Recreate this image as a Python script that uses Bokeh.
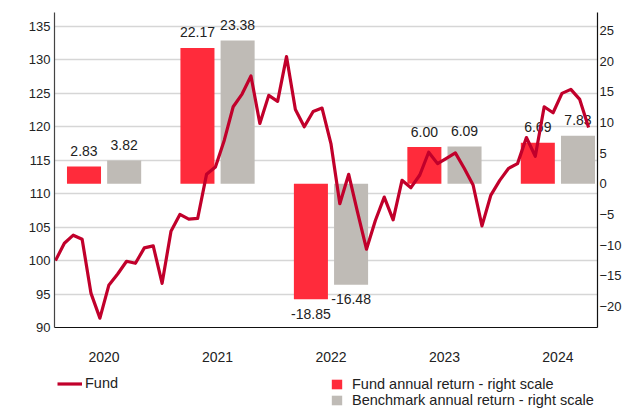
from bokeh.plotting import figure
from bokeh.layouts import column
from bokeh.models import (Range1d, LinearAxis, FixedTicker, Legend, LegendItem,
                          ColumnDataSource, Grid)
from bokeh.embed import file_html
from bokeh.resources import INLINE
from bokeh.core.properties import value

# ---------------- data ----------------
years = ["2020", "2021", "2022", "2023", "2024"]
fund_returns = [2.83, 22.17, -18.85, 6.00, 6.69]
bench_returns = [3.82, 23.38, -16.48, 6.09, 7.83]

# monthly fund index (left scale)
fund_index = [100.0, 102.6, 103.8, 103.2, 95.1, 91.4, 96.3, 98.0, 99.9, 99.6,
              101.9, 102.2, 96.6, 104.4, 106.9, 106.2, 106.3, 112.9, 114.0, 118.0,
              123.0, 124.9, 127.6, 120.5, 124.7, 123.8, 130.5, 122.6, 120.0, 122.3,
              122.8, 117.5, 108.5, 112.9, 107.2, 101.7, 106.0, 109.5, 106.1, 112.0,
              110.9, 112.8, 116.2, 114.5, 115.3, 116.1, 113.8, 111.3, 105.2, 109.8,
              112.0, 113.8, 114.5, 118.4, 115.6, 123.0, 122.1, 125.0, 125.6, 124.1,
              119.9]

left_ticks = [90, 95, 100, 105, 110, 115, 120, 125, 130, 135]
right_ticks = [-20, -15, -10, -5, 0, 5, 10, 15, 20, 25]

legend_labels = ["Fund", "Fund annual return - right scale",
                 "Benchmark annual return - right scale"]

# ---------------- style ----------------
FONT = "Liberation Sans"
LINE_COLOR = "#C1002B"
FUND_BAR = "#FF2B3B"
BENCH_BAR = "#BFBBB6"
TEXT = "#222222"
BAR_W = 0.30
BAR_OFF = 0.177
W = 624
FRAME_H = 315
RET_LO, RET_HI = -23.45, 27.95

p = figure(width=W, height=370, output_backend="svg", toolbar_location=None,
           x_range=Range1d(-0.11, 61.0), y_range=Range1d(90, 137.09),
           x_axis_location=None, y_axis_location=None,
           min_border_left=54, min_border_top=12, min_border_bottom=43,
           min_border_right=0)
p.frame_align = False
p.outline_line_color = None
p.background_fill_color = "white"
p.border_fill_color = "white"
for g in p.grid:
    g.visible = False
p.extra_x_ranges = {"yrs": Range1d(-0.437, 4.349)}
p.extra_y_ranges = {"ret": Range1d(RET_LO, RET_HI)}

# axes
left_axis = LinearAxis(ticker=FixedTicker(ticks=left_ticks))
right_axis = LinearAxis(y_range_name="ret", ticker=FixedTicker(ticks=right_ticks))
bottom_axis = LinearAxis(x_range_name="yrs", ticker=FixedTicker(ticks=list(range(len(years)))),
                         major_label_overrides={i: y for i, y in enumerate(years)})
for ax in (left_axis, right_axis, bottom_axis):
    ax.major_tick_line_color = None
    ax.minor_tick_line_color = None
    ax.major_tick_out = 0
    ax.major_tick_in = 0
    ax.minor_tick_out = 0
    ax.minor_tick_in = 0
    ax.axis_line_color = "#111111"
    ax.axis_line_width = 1.2
    ax.major_label_text_font = FONT
    ax.major_label_text_color = TEXT
    ax.major_label_text_font_size = "13px"
left_axis.major_label_standoff = 4
left_axis.axis_line_color = "#444444"
right_axis.major_label_standoff = 2
bottom_axis.major_label_standoff = 24
bottom_axis.major_label_text_font_size = "14px"
p.add_layout(left_axis, "left")
p.add_layout(right_axis, "right")
p.add_layout(bottom_axis, "below")

grid = Grid(dimension=1, ticker=left_axis.ticker, grid_line_color="#d6d6d6",
            grid_line_width=1.5)
p.add_layout(grid)

# bars
idx = list(range(len(years)))
bar_src = ColumnDataSource(dict(
    xf=[i - BAR_OFF for i in idx], xb=[i + BAR_OFF for i in idx],
    fund=fund_returns, bench=bench_returns))
p.vbar(x="xf", top="fund", bottom=0, width=BAR_W, source=bar_src,
       x_range_name="yrs", y_range_name="ret", fill_color=FUND_BAR, line_color=None)
p.vbar(x="xb", top="bench", bottom=0, width=BAR_W, source=bar_src,
       x_range_name="yrs", y_range_name="ret", fill_color=BENCH_BAR, line_color=None)

# bar value labels: centred ~15px above a positive bar, ~14px below a negative one
px_per_unit = FRAME_H / (RET_HI - RET_LO)
up = 15.5 / px_per_unit
down = 14.5 / px_per_unit
lab_x, lab_y, lab_t = [], [], []
for i in idx:
    for xv, v in ((i - BAR_OFF, fund_returns[i]), (i + BAR_OFF, bench_returns[i])):
        lab_x.append(xv)
        lab_y.append(v + up if v >= 0 else v - down)
        lab_t.append(f"{v:.2f}")
p.text(x=lab_x, y=lab_y, text=lab_t, x_range_name="yrs", y_range_name="ret",
       text_align="center", text_baseline="middle",
       text_font=value(FONT), text_font_size="14px", text_color=TEXT)

# fund line
line_src = ColumnDataSource(dict(m=list(range(len(fund_index))), v=fund_index))
p.line(x="m", y="v", source=line_src, line_color=LINE_COLOR,
       line_width=3.2, line_join="round")

# ---------------- legend strip ----------------
lg = figure(width=W, height=38, output_backend="svg", toolbar_location=None,
            x_range=Range1d(0, 1), y_range=Range1d(0, 1),
            x_axis_location=None, y_axis_location=None,
            min_border=0, min_border_left=0, min_border_right=0,
            min_border_top=0, min_border_bottom=0)
lg.frame_align = False
lg.outline_line_color = None
lg.background_fill_color = "white"
lg.border_fill_color = "white"
lg.renderers = []
lg.center = []
# placeholder renderers (outside the visible range) that only feed the legend
lg_line = lg.line(x=[-6, -5], y=[-5, -5], line_color=LINE_COLOR, line_width=3.2)
lg_fund = lg.vbar(x=[-5], top=[-5], bottom=-6, width=0.1, fill_color=FUND_BAR, line_color=None)
lg_bench = lg.vbar(x=[-5], top=[-5], bottom=-6, width=0.1, fill_color=BENCH_BAR, line_color=None)

common = dict(padding=0, margin=0, border_line_color=None,
              background_fill_alpha=0, label_text_font=FONT,
              label_text_font_size="14.5px", label_text_color=TEXT,
              label_height=13, spacing=0)
leg1 = Legend(items=[LegendItem(label=legend_labels[0], renderers=[lg_line])],
              location=(57, 17), glyph_width=25, glyph_height=11,
              label_standoff=3, **common)
leg2 = Legend(items=[LegendItem(label=legend_labels[1], renderers=[lg_fund]),
                     LegendItem(label=legend_labels[2], renderers=[lg_bench])],
              location=(330, 0), glyph_width=13, glyph_height=12,
              label_standoff=9, **common)
lg.add_layout(leg1)
lg.add_layout(leg2)

layout = column(p, lg, spacing=0)
open("out.html", "w").write(file_html(layout, INLINE))
